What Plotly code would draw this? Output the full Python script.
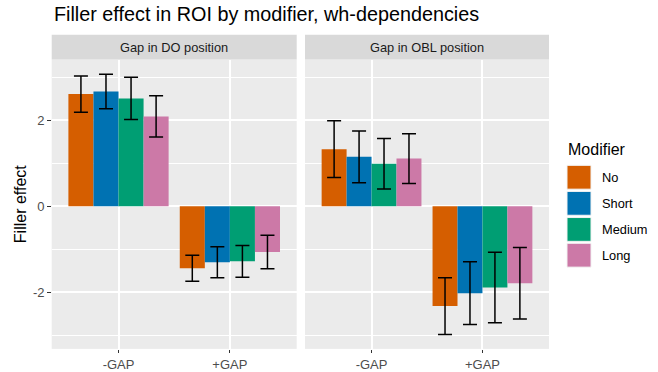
import plotly.graph_objects as go

# ---------------- data ----------------
categories = ["-GAP", "+GAP"]
modifiers = ["No", "Short", "Medium", "Long"]
panels = ["Gap in DO position", "Gap in OBL position"]

do_no = [2.61, -1.44]
do_short = [2.67, -1.30]
do_medium = [2.51, -1.28]
do_long = [2.09, -1.06]

do_no_err = [0.42, 0.30]
do_short_err = [0.40, 0.36]
do_medium_err = [0.49, 0.37]
do_long_err = [0.48, 0.39]

obl_no = [1.33, -2.32]
obl_short = [1.15, -2.02]
obl_medium = [0.99, -1.89]
obl_long = [1.11, -1.79]

obl_no_err = [0.66, 0.66]
obl_short_err = [0.60, 0.73]
obl_medium_err = [0.59, 0.82]
obl_long_err = [0.58, 0.83]

y_tickvals = [-2, 0, 2]
y_ticktext = ["-2", "0", "2"]

colors = {"No": "#D55E00", "Short": "#0072B2", "Medium": "#009E73", "Long": "#CC79A7"}

panel_values = [
    {"No": do_no, "Short": do_short, "Medium": do_medium, "Long": do_long},
    {"No": obl_no, "Short": obl_short, "Medium": obl_medium, "Long": obl_long},
]
panel_errors = [
    {"No": do_no_err, "Short": do_short_err, "Medium": do_medium_err, "Long": do_long_err},
    {"No": obl_no_err, "Short": obl_short_err, "Medium": obl_medium_err, "Long": obl_long_err},
]

# ---------------- layout geometry (pixels) ----------------
W, H = 658, 372
FONT = "Liberation Sans, Arial, sans-serif"

def px(x):
    return x / W

def py(y):
    return 1 - y / H

panel_x = [(51.7, 296.7), (305.0, 549.0)]
panel_top, panel_bottom = 60.0, 351.7
strip_top = 35.0

fig = go.Figure()

for i, (vals, errs) in enumerate(zip(panel_values, panel_errors)):
    xa = "x" if i == 0 else "x2"
    ya = "y" if i == 0 else "y2"
    for m in modifiers:
        fig.add_trace(go.Bar(
            x=categories, y=vals[m], name=m,
            marker=dict(color=colors[m], line=dict(width=0)),
            error_y=dict(type="data", array=errs[m], visible=True,
                         color="black", thickness=1.5, width=7),
            xaxis=xa, yaxis=ya, showlegend=False,
        ))

axis_common_x = dict(
    type="category", categoryorder="array", categoryarray=categories,
    range=[-0.6, 1.6], showgrid=True, gridcolor="white", gridwidth=1.5,
    ticks="outside", ticklen=3.5, tickwidth=1.1, tickcolor="#333333",
    tickfont=dict(family=FONT, size=13, color="#4D4D4D"),
    showline=False, zeroline=False, fixedrange=True,
)
axis_common_y = dict(
    range=[-3.315, 3.414], tickvals=y_tickvals, ticktext=y_ticktext,
    showgrid=True, gridcolor="white", gridwidth=1.5,
    minor=dict(tickvals=[-3, -1, 1, 3], showgrid=True, gridcolor="white", gridwidth=0.7, ticks=""),
    ticklen=3.5, tickwidth=1.1, tickcolor="#333333",
    tickfont=dict(family=FONT, size=13, color="#4D4D4D"),
    showline=False, zeroline=False, fixedrange=True,
)

fig.update_layout(
    width=W, height=H,
    margin=dict(l=0, r=0, t=0, b=0),
    paper_bgcolor="white",
    plot_bgcolor="#EBEBEB",
    barmode="group", bargap=0.1, bargroupgap=0,
    showlegend=False,
    xaxis=dict(domain=[px(panel_x[0][0]), px(panel_x[0][1])], anchor="y", **axis_common_x),
    xaxis2=dict(domain=[px(panel_x[1][0]), px(panel_x[1][1])], anchor="y2", **axis_common_x),
    yaxis=dict(domain=[py(panel_bottom), py(panel_top)], anchor="x", ticks="outside", **axis_common_y),
    yaxis2=dict(domain=[py(panel_bottom), py(panel_top)], anchor="x2", matches="y",
                showticklabels=False, ticks="", **axis_common_y),
)

shapes = []
annotations = []

# strips
for (x0, x1), label in zip(panel_x, panels):
    shapes.append(dict(type="rect", xref="paper", yref="paper",
                       x0=px(x0), x1=px(x1), y0=py(panel_top), y1=py(strip_top),
                       fillcolor="#D9D9D9", line=dict(width=0), layer="below"))
    annotations.append(dict(text=label, xref="paper", yref="paper",
                            x=px((x0 + x1) / 2), y=py((strip_top + panel_top) / 2),
                            xanchor="center", yanchor="middle", showarrow=False,
                            font=dict(family=FONT, size=12.8, color="#1A1A1A")))

# title
annotations.append(dict(text="Filler effect in ROI by modifier, wh-dependencies",
                        xref="paper", yref="paper", x=px(52), y=py(14.5),
                        xanchor="left", yanchor="middle", showarrow=False,
                        font=dict(family=FONT, size=19.8, color="black")))

# y axis title
annotations.append(dict(text="Filler effect", xref="paper", yref="paper",
                        x=px(20), y=py((panel_top + panel_bottom) / 2),
                        xanchor="center", yanchor="middle", textangle=-90, showarrow=False,
                        font=dict(family=FONT, size=16, color="black")))

# legend (manual)
annotations.append(dict(text="Modifier", xref="paper", yref="paper",
                        x=px(566), y=py(151), xanchor="left", yanchor="middle",
                        showarrow=False, font=dict(family=FONT, size=16, color="black")))
key_tops = [166.7, 193.0, 219.3, 245.3]
for m, top in zip(modifiers, key_tops):
    shapes.append(dict(type="rect", xref="paper", yref="paper",
                       x0=px(567), x1=px(591), y0=py(top + 24), y1=py(top),
                       fillcolor=colors[m], line=dict(width=1, color="#F2F2F2")))
    annotations.append(dict(text=m, xref="paper", yref="paper",
                            x=px(600), y=py(top + 12), xanchor="left", yanchor="middle",
                            showarrow=False, font=dict(family=FONT, size=12.8, color="black")))

fig.update_layout(shapes=shapes, annotations=annotations)

fig.write_html("out.html", config={"displayModeBar": False},
               post_script="document.body.style.margin='0';document.body.style.overflow='hidden';")
